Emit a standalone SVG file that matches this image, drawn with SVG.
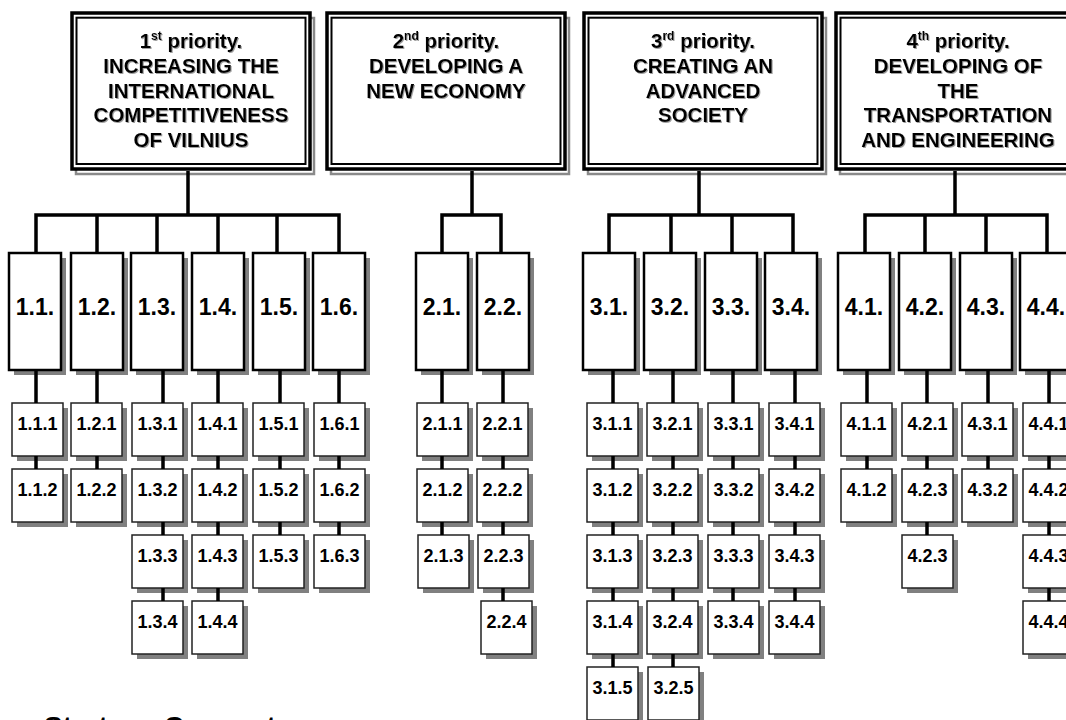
<svg xmlns="http://www.w3.org/2000/svg" xmlns:xlink="http://www.w3.org/1999/xlink" width="1066" height="720" viewBox="0 0 1066 720">
  <style>
    text { font-family: "Liberation Sans", Arial, sans-serif; font-weight: bold; fill: #000; text-anchor: middle; }
    .pt { font-size: 20.5px; filter: url(#ts); }
    .l2t { font-size: 23px; }
    .l3t { font-size: 18px; }
    .sup { font-size: 12px; }
    .cap { font-size: 28px; font-weight: bold; text-anchor: start; }
    .wire { fill: none; stroke: #000; stroke-width: 3.5; stroke-linejoin: miter; }
    .shade { fill: #808080; }
    .b2 { fill: #fff; stroke: #000; stroke-width: 2.5; }
    .b3 { fill: #fff; stroke: #222; stroke-width: 1.5; }
  </style>
  <defs>
    <filter id="ts" x="-10%" y="-20%" width="120%" height="150%">
      <feDropShadow dx="1" dy="1" stdDeviation="0.7" flood-color="#777" flood-opacity="0.7"/>
    </filter>
    <!-- priority frame: grey offset shadow, heavy outer line, thin inner line -->
    <g id="pframe">
      <rect x="4" y="5" width="238" height="156" fill="none" stroke="#8a8a8a" stroke-width="2.5"/>
      <rect x="0" y="0" width="238" height="156" fill="#fff" stroke="#000" stroke-width="3.5"/>
      <rect x="4.5" y="4.7" width="229" height="146.3" fill="none" stroke="#000" stroke-width="2"/>
    </g>
    <!-- measure box (tall) -->
    <g id="mbox">
      <rect class="shade" x="5" y="5" width="52" height="117"/>
      <rect class="b2" x="0" y="0" width="52" height="117"/>
    </g>
    <!-- project box (small) -->
    <g id="pbox">
      <rect class="shade" x="5" y="5" width="51" height="53"/>
      <rect class="b3" x="0" y="0" width="51" height="53"/>
    </g>
  </defs>

  <rect width="1066" height="720" fill="#fff"/>

  <!-- priorities -->
  <g id="p1" transform="translate(72,13)">
    <use xlink:href="#pframe"/>
    <text class="pt" x="119" y="35">1<tspan class="sup" dy="-8">st</tspan><tspan dy="8"> priority.</tspan></text>
    <text class="pt" x="119" y="60">INCREASING THE</text>
    <text class="pt" x="119" y="85">INTERNATIONAL</text>
    <text class="pt" x="119" y="109">COMPETITIVENESS</text>
    <text class="pt" x="119" y="134">OF VILNIUS</text>
  </g>
  <g id="p2" transform="translate(327,13)">
    <use xlink:href="#pframe"/>
    <text class="pt" x="119" y="35">2<tspan class="sup" dy="-8">nd</tspan><tspan dy="8"> priority.</tspan></text>
    <text class="pt" x="119" y="60">DEVELOPING A</text>
    <text class="pt" x="119" y="85">NEW ECONOMY</text>
  </g>
  <g id="p3" transform="translate(584,13)">
    <use xlink:href="#pframe"/>
    <text class="pt" x="119" y="35">3<tspan class="sup" dy="-8">rd</tspan><tspan dy="8"> priority.</tspan></text>
    <text class="pt" x="119" y="60">CREATING AN</text>
    <text class="pt" x="119" y="85">ADVANCED</text>
    <text class="pt" x="119" y="109">SOCIETY</text>
  </g>
  <g id="p4" transform="translate(836,13)">
    <use xlink:href="#pframe"/>
    <text class="pt" x="122" y="35">4<tspan class="sup" dy="-8">th</tspan><tspan dy="8"> priority.</tspan></text>
    <text class="pt" x="122" y="60">DEVELOPING OF</text>
    <text class="pt" x="122" y="85">THE</text>
    <text class="pt" x="122" y="109">TRANSPORTATION</text>
    <text class="pt" x="122" y="134">AND ENGINEERING</text>
  </g>

  <!-- measures -->
  <g id="m1-1" transform="translate(9,253)"><use xlink:href="#mbox"/><text class="l2t" x="26" y="62">1.1.</text></g>
  <g id="m1-2" transform="translate(71,253)"><use xlink:href="#mbox"/><text class="l2t" x="26" y="62">1.2.</text></g>
  <g id="m1-3" transform="translate(131,253)"><use xlink:href="#mbox"/><text class="l2t" x="26" y="62">1.3.</text></g>
  <g id="m1-4" transform="translate(192,253)"><use xlink:href="#mbox"/><text class="l2t" x="26" y="62">1.4.</text></g>
  <g id="m1-5" transform="translate(253,253)"><use xlink:href="#mbox"/><text class="l2t" x="26" y="62">1.5.</text></g>
  <g id="m1-6" transform="translate(313,253)"><use xlink:href="#mbox"/><text class="l2t" x="26" y="62">1.6.</text></g>
  <g id="m2-1" transform="translate(416,253)"><use xlink:href="#mbox"/><text class="l2t" x="26" y="62">2.1.</text></g>
  <g id="m2-2" transform="translate(477,253)"><use xlink:href="#mbox"/><text class="l2t" x="26" y="62">2.2.</text></g>
  <g id="m3-1" transform="translate(583,253)"><use xlink:href="#mbox"/><text class="l2t" x="26" y="62">3.1.</text></g>
  <g id="m3-2" transform="translate(644,253)"><use xlink:href="#mbox"/><text class="l2t" x="26" y="62">3.2.</text></g>
  <g id="m3-3" transform="translate(705,253)"><use xlink:href="#mbox"/><text class="l2t" x="26" y="62">3.3.</text></g>
  <g id="m3-4" transform="translate(765,253)"><use xlink:href="#mbox"/><text class="l2t" x="26" y="62">3.4.</text></g>
  <g id="m4-1" transform="translate(838,253)"><use xlink:href="#mbox"/><text class="l2t" x="26" y="62">4.1.</text></g>
  <g id="m4-2" transform="translate(899,253)"><use xlink:href="#mbox"/><text class="l2t" x="26" y="62">4.2.</text></g>
  <g id="m4-3" transform="translate(960,253)"><use xlink:href="#mbox"/><text class="l2t" x="26" y="62">4.3.</text></g>
  <g id="m4-4" transform="translate(1020,253)"><use xlink:href="#mbox"/><text class="l2t" x="26" y="62">4.4.</text></g>

  <!-- projects: rows at y = 403, 469, 535, 601, 667 -->
  <g id="t1-1-1" transform="translate(12,403)"><use xlink:href="#pbox"/><text class="l3t" x="25.5" y="27">1.1.1</text></g>
  <g id="t1-1-2" transform="translate(12,469)"><use xlink:href="#pbox"/><text class="l3t" x="25.5" y="27">1.1.2</text></g>
  <g id="t1-2-1" transform="translate(71,403)"><use xlink:href="#pbox"/><text class="l3t" x="25.5" y="27">1.2.1</text></g>
  <g id="t1-2-2" transform="translate(71,469)"><use xlink:href="#pbox"/><text class="l3t" x="25.5" y="27">1.2.2</text></g>
  <g id="t1-3-1" transform="translate(132,403)"><use xlink:href="#pbox"/><text class="l3t" x="25.5" y="27">1.3.1</text></g>
  <g id="t1-3-2" transform="translate(132,469)"><use xlink:href="#pbox"/><text class="l3t" x="25.5" y="27">1.3.2</text></g>
  <g id="t1-3-3" transform="translate(132,535)"><use xlink:href="#pbox"/><text class="l3t" x="25.5" y="27">1.3.3</text></g>
  <g id="t1-3-4" transform="translate(132,601)"><use xlink:href="#pbox"/><text class="l3t" x="25.5" y="27">1.3.4</text></g>
  <g id="t1-4-1" transform="translate(192,403)"><use xlink:href="#pbox"/><text class="l3t" x="25.5" y="27">1.4.1</text></g>
  <g id="t1-4-2" transform="translate(192,469)"><use xlink:href="#pbox"/><text class="l3t" x="25.5" y="27">1.4.2</text></g>
  <g id="t1-4-3" transform="translate(192,535)"><use xlink:href="#pbox"/><text class="l3t" x="25.5" y="27">1.4.3</text></g>
  <g id="t1-4-4" transform="translate(192,601)"><use xlink:href="#pbox"/><text class="l3t" x="25.5" y="27">1.4.4</text></g>
  <g id="t1-5-1" transform="translate(253,403)"><use xlink:href="#pbox"/><text class="l3t" x="25.5" y="27">1.5.1</text></g>
  <g id="t1-5-2" transform="translate(253,469)"><use xlink:href="#pbox"/><text class="l3t" x="25.5" y="27">1.5.2</text></g>
  <g id="t1-5-3" transform="translate(253,535)"><use xlink:href="#pbox"/><text class="l3t" x="25.5" y="27">1.5.3</text></g>
  <g id="t1-6-1" transform="translate(314,403)"><use xlink:href="#pbox"/><text class="l3t" x="25.5" y="27">1.6.1</text></g>
  <g id="t1-6-2" transform="translate(314,469)"><use xlink:href="#pbox"/><text class="l3t" x="25.5" y="27">1.6.2</text></g>
  <g id="t1-6-3" transform="translate(314,535)"><use xlink:href="#pbox"/><text class="l3t" x="25.5" y="27">1.6.3</text></g>

  <g id="t2-1-1" transform="translate(417,403)"><use xlink:href="#pbox"/><text class="l3t" x="25.5" y="27">2.1.1</text></g>
  <g id="t2-1-2" transform="translate(417,469)"><use xlink:href="#pbox"/><text class="l3t" x="25.5" y="27">2.1.2</text></g>
  <g id="t2-1-3" transform="translate(418,535)"><use xlink:href="#pbox"/><text class="l3t" x="25.5" y="27">2.1.3</text></g>
  <g id="t2-2-1" transform="translate(477,403)"><use xlink:href="#pbox"/><text class="l3t" x="25.5" y="27">2.2.1</text></g>
  <g id="t2-2-2" transform="translate(477,469)"><use xlink:href="#pbox"/><text class="l3t" x="25.5" y="27">2.2.2</text></g>
  <g id="t2-2-3" transform="translate(478,535)"><use xlink:href="#pbox"/><text class="l3t" x="25.5" y="27">2.2.3</text></g>
  <g id="t2-2-4" transform="translate(481,601)"><use xlink:href="#pbox"/><text class="l3t" x="25.5" y="27">2.2.4</text></g>

  <g id="t3-1-1" transform="translate(587,403)"><use xlink:href="#pbox"/><text class="l3t" x="25.5" y="27">3.1.1</text></g>
  <g id="t3-1-2" transform="translate(587,469)"><use xlink:href="#pbox"/><text class="l3t" x="25.5" y="27">3.1.2</text></g>
  <g id="t3-1-3" transform="translate(587,535)"><use xlink:href="#pbox"/><text class="l3t" x="25.5" y="27">3.1.3</text></g>
  <g id="t3-1-4" transform="translate(587,601)"><use xlink:href="#pbox"/><text class="l3t" x="25.5" y="27">3.1.4</text></g>
  <g id="t3-1-5" transform="translate(587,667)"><use xlink:href="#pbox"/><text class="l3t" x="25.5" y="27">3.1.5</text></g>
  <g id="t3-2-1" transform="translate(647,403)"><use xlink:href="#pbox"/><text class="l3t" x="25.5" y="27">3.2.1</text></g>
  <g id="t3-2-2" transform="translate(647,469)"><use xlink:href="#pbox"/><text class="l3t" x="25.5" y="27">3.2.2</text></g>
  <g id="t3-2-3" transform="translate(647,535)"><use xlink:href="#pbox"/><text class="l3t" x="25.5" y="27">3.2.3</text></g>
  <g id="t3-2-4" transform="translate(647,601)"><use xlink:href="#pbox"/><text class="l3t" x="25.5" y="27">3.2.4</text></g>
  <g id="t3-2-5" transform="translate(648,667)"><use xlink:href="#pbox"/><text class="l3t" x="25.5" y="27">3.2.5</text></g>
  <g id="t3-3-1" transform="translate(708,403)"><use xlink:href="#pbox"/><text class="l3t" x="25.5" y="27">3.3.1</text></g>
  <g id="t3-3-2" transform="translate(708,469)"><use xlink:href="#pbox"/><text class="l3t" x="25.5" y="27">3.3.2</text></g>
  <g id="t3-3-3" transform="translate(708,535)"><use xlink:href="#pbox"/><text class="l3t" x="25.5" y="27">3.3.3</text></g>
  <g id="t3-3-4" transform="translate(708,601)"><use xlink:href="#pbox"/><text class="l3t" x="25.5" y="27">3.3.4</text></g>
  <g id="t3-4-1" transform="translate(769,403)"><use xlink:href="#pbox"/><text class="l3t" x="25.5" y="27">3.4.1</text></g>
  <g id="t3-4-2" transform="translate(769,469)"><use xlink:href="#pbox"/><text class="l3t" x="25.5" y="27">3.4.2</text></g>
  <g id="t3-4-3" transform="translate(769,535)"><use xlink:href="#pbox"/><text class="l3t" x="25.5" y="27">3.4.3</text></g>
  <g id="t3-4-4" transform="translate(769,601)"><use xlink:href="#pbox"/><text class="l3t" x="25.5" y="27">3.4.4</text></g>

  <g id="t4-1-1" transform="translate(841,403)"><use xlink:href="#pbox"/><text class="l3t" x="25.5" y="27">4.1.1</text></g>
  <g id="t4-1-2" transform="translate(841,469)"><use xlink:href="#pbox"/><text class="l3t" x="25.5" y="27">4.1.2</text></g>
  <g id="t4-2-1" transform="translate(902,403)"><use xlink:href="#pbox"/><text class="l3t" x="25.5" y="27">4.2.1</text></g>
  <g id="t4-2-2" transform="translate(902,469)"><use xlink:href="#pbox"/><text class="l3t" x="25.5" y="27">4.2.3</text></g>
  <g id="t4-2-3" transform="translate(902,535)"><use xlink:href="#pbox"/><text class="l3t" x="25.5" y="27">4.2.3</text></g>
  <g id="t4-3-1" transform="translate(962,403)"><use xlink:href="#pbox"/><text class="l3t" x="25.5" y="27">4.3.1</text></g>
  <g id="t4-3-2" transform="translate(962,469)"><use xlink:href="#pbox"/><text class="l3t" x="25.5" y="27">4.3.2</text></g>
  <g id="t4-4-1" transform="translate(1023,403)"><use xlink:href="#pbox"/><text class="l3t" x="25.5" y="27">4.4.1</text></g>
  <g id="t4-4-2" transform="translate(1023,469)"><use xlink:href="#pbox"/><text class="l3t" x="25.5" y="27">4.4.2</text></g>
  <g id="t4-4-3" transform="translate(1023,535)"><use xlink:href="#pbox"/><text class="l3t" x="25.5" y="27">4.4.3</text></g>
  <g id="t4-4-4" transform="translate(1023,601)"><use xlink:href="#pbox"/><text class="l3t" x="25.5" y="27">4.4.4</text></g>

  <!-- connectors -->
  <g id="connectors" class="wire">
    <!-- priority to measures -->
    <path d="M188,171 V215 M36,253 V215 H339 V253 M97,215 V253 M157,215 V253 M218,215 V253 M277,215 V253"/>
    <path d="M472,171 V215 M442,253 V215 H501 V253"/>
    <path d="M699,171 V215 M609,253 V215 H793 V253 M671,215 V253 M732,215 V253"/>
    <path d="M955,171 V215 M865,253 V215 H1047 V253 M925,215 V253 M986,215 V253"/>
    <!-- measures to projects, and project chains -->
    <path d="M36,371 V403 M36,456 V469"/>
    <path d="M97,371 V403 M97,456 V469"/>
    <path d="M163,371 V403 M163,456 V469 M163,522 V535 M163,588 V601"/>
    <path d="M218,371 V403 M218,456 V469 M218,522 V535 M218,588 V601"/>
    <path d="M280,371 V403 M280,456 V469 M280,522 V535"/>
    <path d="M339,371 V403 M339,456 V469 M339,522 V535"/>
    <path d="M442,371 V403 M442,456 V469 M442,522 V535"/>
    <path d="M503,371 V403 M503,456 V469 M503,522 V535 M503,588 V601"/>
    <path d="M613,371 V403 M613,456 V469 M613,522 V535 M613,588 V601 M613,654 V667"/>
    <path d="M673,371 V403 M673,456 V469 M673,522 V535 M673,588 V601 M673,654 V667"/>
    <path d="M733,371 V403 M733,456 V469 M733,522 V535 M733,588 V601"/>
    <path d="M795,371 V403 M795,456 V469 M795,522 V535 M795,588 V601"/>
    <path d="M867,371 V403 M867,456 V469"/>
    <path d="M927,371 V403 M927,456 V469 M927,522 V535"/>
    <path d="M988,371 V403 M988,456 V469"/>
    <path d="M1049,371 V403 M1049,456 V469 M1049,522 V535 M1049,588 V601"/>
  </g>

  <!-- caption running off the lower edge -->
  <text class="cap" x="44" y="736">Strategy Concept</text>
</svg>
